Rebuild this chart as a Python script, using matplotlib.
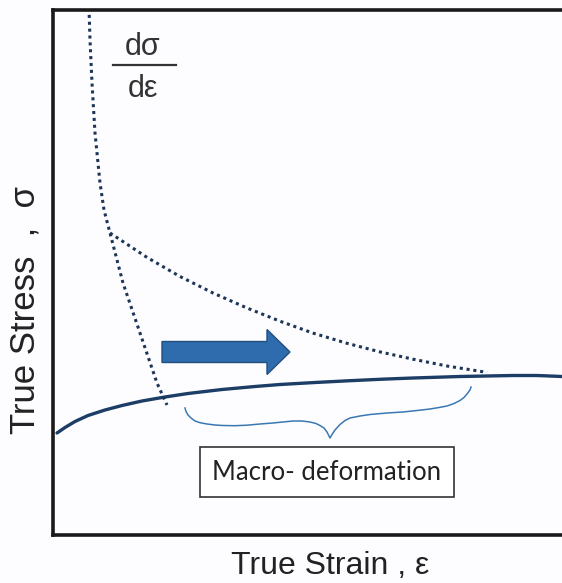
import matplotlib
matplotlib.use('Agg')
import matplotlib.pyplot as plt
from matplotlib.patches import FancyArrow

# schematic data, arbitrary units (strain, stress)
stress_strain = [0, 8, 18, 31, 48, 65, 85, 108, 131, 165, 198, 223, 258, 293, 325, 356, 403, 456, 480, 505]
stress_val = [103, 108.5, 114.5, 120.5, 126, 130.5, 135, 139, 142.5, 146.5, 149.5, 151.5, 153.5,
              155.3, 156.8, 158, 159.5, 160.5, 160.5, 159.5]

# work-hardening rate dσ/dε, steep part
rate_strain = [32, 33, 35, 38, 43, 47, 53, 66, 83, 100, 110]
rate_val = [528, 496, 453, 403, 353, 326, 303, 253, 203, 153, 131]

# work-hardening rate, slow decaying branch
rate2_strain = [53, 90, 123, 156, 190, 223, 256, 290, 323, 356, 390, 430]
rate2_val = [303, 278.6, 259.5, 243, 228, 214.8, 202.9, 192.7, 184.1, 176.8, 170, 163.6]

# curly brace under the macro-deformation range
brace_x = [128, 129, 131, 134, 138, 143, 150, 158, 166, 178, 190, 203, 216, 226, 236, 245,
           253, 259, 263, 267, 270, 273,
           275, 278, 283, 288, 293, 303, 313, 330, 346, 360, 373, 382, 390, 397, 403, 407, 410, 413, 414]
brace_y = [128, 124.5, 121, 118, 115, 113.3, 112, 111, 110.5, 110.3, 110.8, 112, 113, 114, 115, 115,
           114, 112.5, 110.5, 108, 104, 98,
           101.5, 106, 111.5, 115.5, 118, 120, 121.5, 123, 124, 125.5, 127, 128.5, 130, 132.5, 135.5, 138.5, 142, 146, 149]

W, H = 562, 583
fig = plt.figure(figsize=(W / 100, H / 100), dpi=100)
fig.patch.set_facecolor('#fdfdff')
ax = fig.add_axes([53 / W, (H - 535) / H, 509 / W, 525 / H])
ax.set_facecolor('#fdfdff')
ax.set_xlim(-4, 505)
ax.set_ylim(1, 526)

ax.plot(stress_strain, stress_val, color='#1c3d66', lw=2.4, solid_capstyle='round',
        solid_joinstyle='round')
ax.plot(rate_strain, rate_val, color='#1d3557', lw=2.2, linestyle=(0, (1, 1.25)),
        dash_capstyle='butt')
ax.plot(rate2_strain, rate2_val, color='#1d3557', lw=2.2, linestyle=(0, (1, 1.25)),
        dash_capstyle='butt')
ax.plot(brace_x, brace_y, color='#3b78b3', lw=1.1, solid_joinstyle='round')

arr = FancyArrow(105, 184, 128, 0, width=21, head_width=45, head_length=23,
                 length_includes_head=True, facecolor='#2f6cae', edgecolor='#214f80', lw=1.0)
ax.add_patch(arr)

ax.text(270, 64, 'Macro- deformation', family='Lato', fontsize=18.5, color='#222222',
        ha='center', va='center',
        bbox=dict(boxstyle='square,pad=0.5', facecolor='white', edgecolor='#333333', lw=1.2))

ax.text(86, 481, 'dσ', family='Liberation Sans', fontsize=22, color='#333333',
        ha='center', va='baseline')
ax.plot([56, 119], [471, 471], color='#333333', lw=1.6)
ax.text(86, 439, 'dε', family='Liberation Sans', fontsize=22, color='#333333',
        ha='center', va='baseline')

for s in ['left', 'bottom', 'top']:
    ax.spines[s].set_linewidth(2.6)
    ax.spines[s].set_color('#1a1a1a')
ax.spines['right'].set_visible(False)
ax.set_xticks([])
ax.set_yticks([])

fig.text(330 / W, 1 - 566 / H, 'True Strain , ε', family='Liberation Sans', fontsize=23,
         color='#222222', ha='center', va='center')
fig.text(25 / W, 1 - 310 / H, 'True Stress  ,  σ', family='Liberation Sans', fontsize=25,
         color='#222222', ha='center', va='center', rotation=90)

fig.savefig('out.png', dpi=100, facecolor=fig.get_facecolor())
